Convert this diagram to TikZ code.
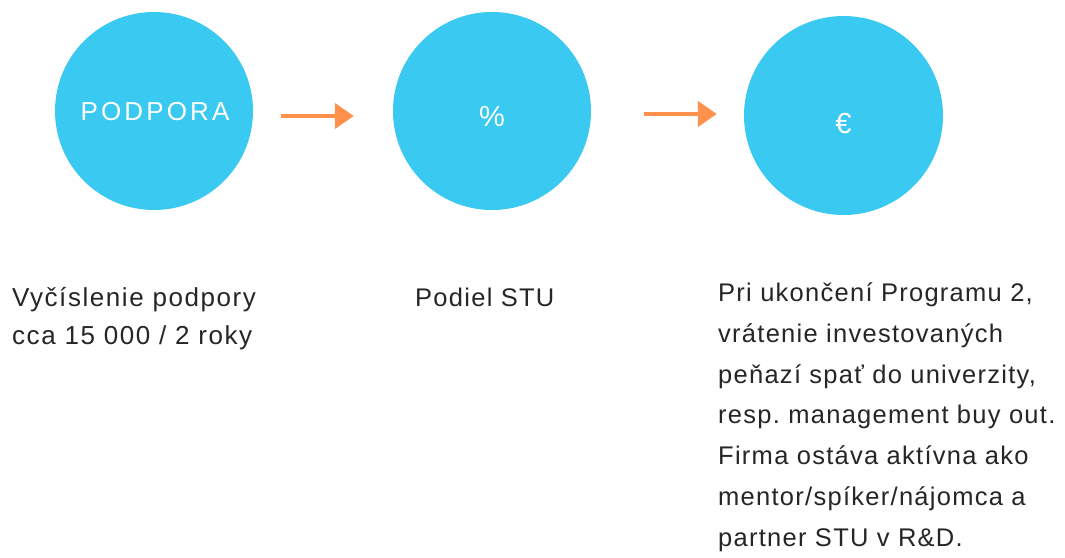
\documentclass[tikz,border=0pt]{standalone}
\usepackage{fontspec}
\usetikzlibrary{arrows.meta}
\setmainfont{Liberation Sans}
\newfontfamily\bodyfont{Liberation Sans}[LetterSpace=5]
\newfontfamily\leftfont{Liberation Sans}[LetterSpace=6]
\newfontfamily\circfont{Liberation Sans}[LetterSpace=12]
\definecolor{circcol}{RGB}{58,201,240}
\definecolor{arrcol}{RGB}{255,145,77}
\definecolor{txtcol}{RGB}{38,38,38}
\tikzset{
  circ/.style={circle, fill=circcol, draw=none, minimum size=198pt, inner sep=0pt},
  clabel/.style={text=white, font=\circfont\fontsize{26}{30}\selectfont, inner sep=0pt},
  arr/.style={draw=arrcol, line width=4.5pt, -{Triangle[length=19pt,width=25pt]}},
  desc/.style={text=txtcol, font=\frenchspacing\bodyfont\fontsize{25.5}{40.7}\selectfont, align=left, anchor=base west, inner sep=0pt}
}
\begin{document}
\begin{tikzpicture}[x=1pt,y=-1pt]
\useasboundingbox[fill=white] (0,0) rectangle (1065,557);
\node[circ] (c1) at (154,111) {};
\node[circ] (c2) at (492,111) {};
\node[circ, minimum size=199pt] (c3) at (843.5,115.5) {};
\node[clabel] (l1) at ([xshift=1pt,yshift=-1pt]c1.center) {PODPORA};
\node[clabel, font=\circfont\fontsize{29}{32}\selectfont] (l2) at ([yshift=-6pt]c2.center) {\%};
\node[clabel, font=\circfont\fontsize{29}{32}\selectfont] (l3) at ([yshift=-8pt]c3.center) {€};
\draw[arr, shorten <=28pt, shorten >=39pt] ([yshift=-5pt]c1.east) -- ([yshift=-5pt]c2.west);
\draw[arr, shorten <=53pt, shorten >=27pt] ([yshift=-3pt]c2.east) -- ([yshift=1.5pt]c3.west);
\node[desc, font=\frenchspacing\leftfont\fontsize{26}{38}\selectfont] (t1) at (12,344) {Vyčíslenie podpory\\cca 15 000 / 2 roky};
\node[desc] (t2) at (415,306) {Podiel STU};
\node[desc] (t3) at (718,546) {Pri ukončení Programu 2,\\vrátenie investovaných\\peňazí spať do univerzity,\\resp. management buy out.\\Firma ostáva aktívna ako\\mentor/spíker/nájomca a\\partner STU v R\&D.};
\end{tikzpicture}
\end{document}
